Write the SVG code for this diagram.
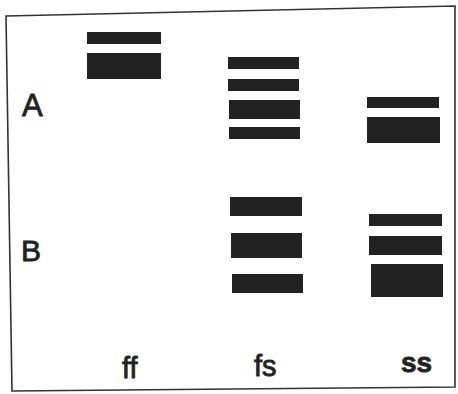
<svg xmlns="http://www.w3.org/2000/svg" width="458" height="394" viewBox="0 0 458 394">
  <style>
    .band { fill: #222; }
    .lbl { font-family: "Liberation Sans", Arial, sans-serif; fill: #222; stroke: #222; stroke-width: 0.8; }
  </style>
  <rect width="458" height="394" fill="#fff"/>
  <!-- gel outline (slightly skewed) -->
  <polygon points="6,16 455,6 455,387 12,391" fill="none" stroke="#333" stroke-width="1.6"/>

  <!-- row labels -->
  <g id="label-A"><text class="lbl" x="22" y="116" font-size="31">A</text></g>
  <g id="label-B"><text class="lbl" x="21" y="261" font-size="30">B</text></g>

  <!-- lane ff -->
  <g id="lane-ff">
    <rect class="band" x="87" y="32" width="74" height="12"/>
    <rect class="band" x="87" y="53" width="74" height="26"/>
    <text class="lbl" x="122" y="378" font-size="29">ff</text>
  </g>

  <!-- lane fs -->
  <g id="lane-fs">
    <rect class="band" x="228" y="57" width="71" height="12"/>
    <rect class="band" x="228" y="79" width="71" height="12"/>
    <rect class="band" x="229" y="100" width="71" height="19"/>
    <rect class="band" x="229" y="127" width="71" height="12"/>
    <rect class="band" x="230" y="197" width="72" height="19"/>
    <rect class="band" x="231" y="233" width="71" height="25"/>
    <rect class="band" x="232" y="274" width="71" height="19"/>
    <text class="lbl" x="254" y="376" font-size="29">fs</text>
  </g>

  <!-- lane ss -->
  <g id="lane-ss">
    <rect class="band" x="367" y="97" width="72" height="11"/>
    <rect class="band" x="367" y="117" width="73" height="26"/>
    <rect class="band" x="369" y="214" width="73" height="12"/>
    <rect class="band" x="369" y="236" width="73" height="19"/>
    <rect class="band" x="371" y="264" width="72" height="33"/>
    <text class="lbl" x="401" y="372" font-size="28" font-weight="bold" stroke-width="0.3">ss</text>
  </g>
</svg>
